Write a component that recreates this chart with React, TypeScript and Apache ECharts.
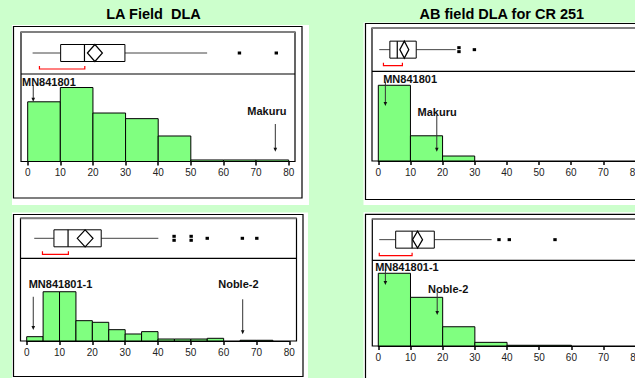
import React, { useEffect, useRef } from "react";
import * as echarts from "echarts";

const FONT = '"Liberation Sans", Arial, Helvetica, sans-serif';

// ---------- texts ----------
const panelTitles = ["LA Field  DLA", "AB field DLA for CR 251"];
const dlaTicks = [0, 10, 20, 30, 40, 50, 60, 70, 80];

// ---------- LA Field DLA, upper panel ----------
const laUpperBinStarts = [0, 10, 20, 30, 40, 50, 60, 70];
const laUpperBinWidth = 10;
const laUpperPercent = [23.4, 29.0, 19.0, 16.8, 10.0, 0.6, 0.6, 0.6];
const laUpperBox = [1.5, 10.1, 17.4, 29.8, 55.0]; // min, Q1, median, Q3, max
const laUpperMean = [20.6, 2.3]; // mean, diamond half width
const laUpperOutliers = [64.9, 76.2];
const laUpperBracket = [3.6, 17.5];
const laUpperNotes = [
  { text: "MN841801", x: 1.7, tail: 30.0, tip: 23.4, labelX: 6.5, labelY: 31.3 },
  { text: "Makuru", x: 75.9, tail: 14.7, tip: 3.8, labelX: 73.3, labelY: 19.8 },
];

// ---------- LA Field DLA, lower panel ----------
const laLowerBinStarts = [0, 5, 10, 15, 20, 25, 30, 35, 40, 45, 50, 55, 60, 65, 70, 75];
const laLowerBinWidth = 5;
const laLowerPercent = [2.4, 27.4, 27.4, 11.3, 10.4, 6.3, 3.9, 5.2, 1.1, 1.1, 1.1, 1.5, 0, 0.4, 0.4, 0];
const laLowerBox = [2.3, 8.3, 12.6, 22.7, 40.1];
const laLowerMean = [17.8, 2.4];
const laLowerOutliers = [44.9, 44.9, 50.1, 50.1, 55.0, 65.7, 70.1];
const laLowerBracket = [4.8, 12.7];
const laLowerNotes = [
  { text: "MN841801-1", x: 2.0, tail: 24.6, tip: 6.1, labelX: 10.3, labelY: 31.5 },
  { text: "Noble-2", x: 65.8, tail: 23.2, tip: 3.7, labelX: 64.5, labelY: 31.5 },
];

// ---------- AB field DLA for CR 251, upper panel ----------
const abUpperBinStarts = [0, 10, 20];
const abUpperBinWidth = 10;
const abUpperPercent = [71.5, 23.8, 4.7];
const abUpperBox = [0.3, 3.6, 5.9, 11.8, 24.1];
const abUpperMean = [8.1, 1.4];
const abUpperOutliers = [25.1, 25.1, 29.9];
const abUpperBracket = [1.6, 7.5];
const abUpperNotes = [
  { text: "MN841801", x: 2.2, tail: 74.9, tip: 51.9, labelX: 9.9, labelY: 77.7 },
  { text: "Makuru", x: 18.2, tail: 43.4, tip: 8.8, labelX: 18.3, labelY: 46.0 },
];

// ---------- AB field DLA for CR 251, lower panel ----------
const abLowerBinStarts = [0, 10, 20, 30, 40, 50];
const abLowerBinWidth = 10;
const abLowerPercent = [49.9, 33.4, 13.2, 2.5, 0.5, 0.5];
const abLowerBox = [0.3, 5.4, 10.5, 17.4, 35.2];
const abLowerMean = [12.2, 1.55];
const abLowerOutliers = [37.5, 40.7, 54.9];
const abLowerBracket = [0.3, 10.5];
const abLowerNotes = [
  { text: "MN841801-1", x: 2.2, tail: 52.8, tip: 41.9, labelX: 8.9, labelY: 54.2 },
  { text: "Noble-2", x: 18.3, tail: 36.8, tip: 21.3, labelX: 21.7, labelY: 38.9 },
];

// ---------- layout (pixels) ----------
const layouts = [
  {
    paper: [12, 25, 297, 180], border: [13.5, 26.5, 288.5, 171.5], frame: [21, 32, 274, 129.5], divider: 74,
    plotLeft: 27.7, plotWidth: 261, boxTop: 32, boxHeight: 42, histTop: 74, histHeight: 87.5, yMax: 34.3,
  },
  {
    paper: [12, 212.5, 296, 170], border: [13.5, 214.5, 289.5, 162], frame: [20.5, 218.3, 276, 122.7], divider: 258.3,
    plotLeft: 26.7, plotWidth: 262.6, boxTop: 218.3, boxHeight: 40, histTop: 258.3, histHeight: 82.7, yMax: 46,
  },
  {
    paper: [363.5, 22.5, 300, 182.5], border: [365.5, 23.5, 288, 176], frame: [372, 28, 274, 133], divider: 71.3,
    plotLeft: 378.3, plotWidth: 257.1, boxTop: 28, boxHeight: 43.3, histTop: 71.3, histHeight: 89.7, yMax: 84.7,
  },
  {
    paper: [363.5, 212.3, 300, 175], border: [365.5, 214.3, 288, 172], frame: [372.3, 219, 274, 127], divider: 260.3,
    plotLeft: 378.3, plotWidth: 257.5, boxTop: 219, boxHeight: 41.3, histTop: 260.3, histHeight: 85.7, yMax: 58.8,
  },
];

const panels = [
  { starts: laUpperBinStarts, width: laUpperBinWidth, pct: laUpperPercent, box: laUpperBox, mean: laUpperMean, out: laUpperOutliers, bracket: laUpperBracket, notes: laUpperNotes },
  { starts: laLowerBinStarts, width: laLowerBinWidth, pct: laLowerPercent, box: laLowerBox, mean: laLowerMean, out: laLowerOutliers, bracket: laLowerBracket, notes: laLowerNotes },
  { starts: abUpperBinStarts, width: abUpperBinWidth, pct: abUpperPercent, box: abUpperBox, mean: abUpperMean, out: abUpperOutliers, bracket: abUpperBracket, notes: abUpperNotes },
  { starts: abLowerBinStarts, width: abLowerBinWidth, pct: abLowerPercent, box: abLowerBox, mean: abLowerMean, out: abLowerOutliers, bracket: abLowerBracket, notes: abLowerNotes },
];

const BOX_HALF = 8.5;
const BRACKET_DROP = 16;

function buildOption() {
  const grid: any[] = [];
  const xAxis: any[] = [];
  const yAxis: any[] = [];
  const series: any[] = [];
  const graphic: any[] = [];

  layouts.forEach((L, i) => {
    const P = panels[i];
    // paper, borders, frames
    graphic.push({ type: "rect", z: -10, shape: { x: L.paper[0], y: L.paper[1], width: L.paper[2], height: L.paper[3] }, style: { fill: "#ffffff" } });
    graphic.push({ type: "rect", z: -9, shape: { x: L.border[0], y: L.border[1], width: L.border[2], height: L.border[3] }, style: { fill: "none", stroke: "#000", lineWidth: 1.2 } });
    graphic.push({ type: "rect", z: -9, shape: { x: L.frame[0], y: L.frame[1], width: L.frame[2], height: L.frame[3] }, style: { fill: "none", stroke: "#000", lineWidth: 1.2 } });
    graphic.push({ type: "line", z: -8, shape: { x1: L.frame[0], y1: L.frame[1], x2: L.frame[0] + L.frame[2], y2: L.frame[1] }, style: { stroke: "#808080", lineWidth: 2 } });
    graphic.push({ type: "line", z: -8, shape: { x1: L.frame[0], y1: L.divider, x2: L.frame[0] + L.frame[2], y2: L.divider }, style: { stroke: "#000", lineWidth: 1.2 } });

    // box grid
    grid.push({ left: L.plotLeft, top: L.boxTop, width: L.plotWidth, height: L.boxHeight, containLabel: false, outerBoundsMode: "none" });
    // histogram grid
    grid.push({ left: L.plotLeft, top: L.histTop, width: L.plotWidth, height: L.histHeight, containLabel: false, outerBoundsMode: "none" });

    const gBox = i * 2;
    const gHist = i * 2 + 1;

    xAxis.push({ type: "value", gridIndex: gBox, min: 0, max: 80, show: false });
    yAxis.push({ type: "value", gridIndex: gBox, min: 0, max: 1, show: false });
    xAxis.push({
      type: "value", gridIndex: gHist, min: dlaTicks[0], max: dlaTicks[dlaTicks.length - 1], interval: 10,
      axisLine: { show: true, lineStyle: { color: "#000", width: 1.2 } },
      axisTick: { show: true, inside: false, length: 4, lineStyle: { color: "#000", width: 1.5 } },
      axisLabel: { show: true, margin: 6, color: "#222", fontSize: 10, fontFamily: FONT, formatter: (v: number) => String(v) },
      splitLine: { show: false },
    });
    yAxis.push({ type: "value", gridIndex: gHist, min: 0, max: L.yMax, show: false });

    // histogram
    const histData = P.starts.map((s, k) => [s, s + P.width, P.pct[k]]).filter((d) => d[2] > 0);
    series.push({
      type: "custom", xAxisIndex: gHist, yAxisIndex: gHist, data: histData, z: 3,
      renderItem: (_p: any, api: any) => {
        const p0 = api.coord([api.value(0), 0]);
        const p1 = api.coord([api.value(1), api.value(2)]);
        return {
          type: "rect",
          shape: { x: p0[0], y: p1[1], width: p1[0] - p0[0], height: p0[1] - p1[1] },
          style: { fill: "#80FF80", stroke: "#000", lineWidth: 1 },
        };
      },
    });

    // box plot
    const b = P.box;
    series.push({
      type: "custom", xAxisIndex: gBox, yAxisIndex: gBox, z: 3,
      data: [[b[0], b[1], b[2], b[3], b[4], P.mean[0], P.mean[1], P.bracket[0], P.bracket[1]]],
      renderItem: (_p: any, api: any) => {
        const v = (k: number) => api.value(k);
        const c = api.coord([v(2), 0.5])[1];
        const X = (val: number) => api.coord([val, 0.5])[0];
        const xLo = X(v(0)), xQ1 = X(v(1)), xMed = X(v(2)), xQ3 = X(v(3)), xHi = X(v(4));
        const xMean = X(v(5)), xMl = X(v(5) - v(6)), xMr = X(v(5) + v(6));
        const xB0 = X(v(7)), xB1 = X(v(8));
        const yb = c + BRACKET_DROP;
        return {
          type: "group",
          children: [
            { type: "line", shape: { x1: xLo, y1: c, x2: xQ1, y2: c }, style: { stroke: "#444", lineWidth: 1 } },
            { type: "line", shape: { x1: xQ3, y1: c, x2: xHi, y2: c }, style: { stroke: "#444", lineWidth: 1 } },
            { type: "rect", shape: { x: xQ1, y: c - BOX_HALF, width: xQ3 - xQ1, height: BOX_HALF * 2 }, style: { fill: "#fff", stroke: "#000", lineWidth: 1 } },
            { type: "line", shape: { x1: xMed, y1: c - BOX_HALF, x2: xMed, y2: c + BOX_HALF }, style: { stroke: "#000", lineWidth: 1.2 } },
            {
              type: "polygon",
              shape: { points: [[xMl, c], [xMean, c - BOX_HALF], [xMr, c], [xMean, c + BOX_HALF]] },
              style: { fill: "#fff", stroke: "#000", lineWidth: 1.2 },
            },
            {
              type: "polyline",
              shape: { points: [[xB0, yb - 3], [xB0, yb], [xB1, yb], [xB1, yb - 3]] },
              style: { fill: "none", stroke: "#ff0000", lineWidth: 1.2 },
            },
          ],
        };
      },
    });

    // outliers (stack duplicates)
    const outData = P.out.map((val, k) => {
      const same = P.out.filter((o) => o === val).length;
      const idx = P.out.slice(0, k).filter((o) => o === val).length;
      return [val, 0.5, idx, same];
    });
    series.push({
      type: "custom", xAxisIndex: gBox, yAxisIndex: gBox, z: 4, data: outData,
      renderItem: (_p: any, api: any) => {
        const pt = api.coord([api.value(0), api.value(1)]);
        const off = (api.value(2) - (api.value(3) - 1) / 2) * 4;
        return { type: "rect", shape: { x: pt[0] - 1.7, y: pt[1] - 1.5 + off, width: 3.4, height: 3 }, style: { fill: "#000" } };
      },
    });

    // annotations
    const notes = P.notes;
    series.push({
      type: "custom", xAxisIndex: gHist, yAxisIndex: gHist, z: 5,
      data: notes.map((n) => [n.x, n.tip, n.tail, n.labelX, n.labelY]),
      renderItem: (p: any, api: any) => {
        const n = notes[p.dataIndex];
        const tip = api.coord([api.value(0), api.value(1)]);
        const tail = api.coord([api.value(0), api.value(2)]);
        const lab = api.coord([api.value(3), api.value(4)]);
        return {
          type: "group",
          children: [
            { type: "line", shape: { x1: tail[0], y1: tail[1], x2: tip[0], y2: tip[1] - 2 }, style: { stroke: "#333", lineWidth: 1 } },
            { type: "polygon", shape: { points: [[tip[0] - 1.8, tip[1] - 4], [tip[0] + 1.8, tip[1] - 4], [tip[0], tip[1]]] }, style: { fill: "#111" } },
            {
              type: "text",
              style: {
                text: n.text, x: lab[0], y: lab[1], textAlign: "center", textVerticalAlign: "middle",
                align: "center", verticalAlign: "middle",
                font: `bold 11px ${FONT}`, fill: "#111",
              },
            },
          ],
        };
      },
    });
  });

  // titles
  const titleX = [153.5, 501.8];
  panelTitles.forEach((t, i) => {
    graphic.push({
      type: "text", z: 10, x: titleX[i], y: 14,
      style: { text: t, textAlign: "center", textVerticalAlign: "middle", align: "center", verticalAlign: "middle", font: `bold 14.5px ${FONT}`, fill: "#000" },
    });
  });

  return {
    animation: false,
    backgroundColor: "#CCFFCC",
    grid, xAxis, yAxis, series, graphic,
  };
}

export default function App() {
  const ref = useRef<HTMLDivElement>(null);
  useEffect(() => {
    if (!ref.current) return;
    const chart = echarts.init(ref.current, undefined, { renderer: "svg", width: 635, height: 378 });
    chart.setOption(buildOption() as any);
    return () => chart.dispose();
  }, []);
  return <div ref={ref} style={{ position: "fixed", left: 0, top: 0, width: 635, height: 378 }} />;
}
